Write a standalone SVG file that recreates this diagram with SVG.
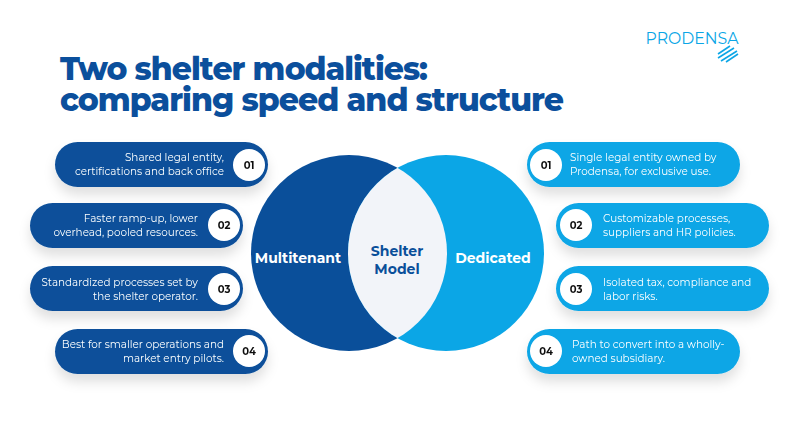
<svg xmlns="http://www.w3.org/2000/svg" width="795" height="446" viewBox="0 0 795 446">
<style>
.t{font-family:Montserrat,"Open Sans","Liberation Sans",sans-serif}
.title{font-size:32px;font-weight:800;fill:#0b4f9c;letter-spacing:-1px}
.pl{font-size:10.4px;fill:#fff}
.num{font-size:10px;font-weight:700;fill:#111;text-anchor:middle}
.dk{fill:#0a4f9a}.lt{fill:#0ba6e6}
.big{font-size:14px;font-weight:700;fill:#fff;text-anchor:middle}
</style>
<defs><filter id="sh" x="-20%" y="-30%" width="140%" height="180%"><feDropShadow dx="0" dy="8" stdDeviation="6" flood-color="#000" flood-opacity="0.12"/></filter>
<clipPath id="cl"><circle cx="349" cy="253" r="98"/></clipPath></defs>
<rect width="795" height="446" fill="#fff"/>
<g id="logo"><text x="692" y="44" class="t" font-size="16" fill="#0ba6e6" text-anchor="middle" textLength="93" lengthAdjust="spacingAndGlyphs">PRODENSA</text>
<g stroke="#0ba6e6" stroke-width="1.6"><line x1="718" y1="54" x2="730" y2="46"/><line x1="718" y1="58" x2="734" y2="48"/><line x1="721" y1="61" x2="737" y2="51"/><line x1="726" y1="62" x2="738" y2="54"/></g></g>
<text class="t title" x="60" y="80" textLength="367" lengthAdjust="spacingAndGlyphs">Two shelter modalities:</text>
<text class="t title" x="60" y="111" textLength="503" lengthAdjust="spacingAndGlyphs">comparing speed and structure</text>
<g id="venn">
<circle cx="349" cy="253" r="98" class="dk"/>
<circle cx="446" cy="253" r="98" class="lt"/>
<circle cx="446" cy="253" r="98" fill="#f2f4f9" clip-path="url(#cl)"/>
<text class="t big" x="298" y="263">Multitenant</text>
<text class="t big" x="493" y="263">Dedicated</text>
<text class="t big" x="397" y="256" style="fill:#0a4f9a">Shelter</text>
<text class="t big" x="397" y="274" style="fill:#0a4f9a">Model</text>
</g>
<g id="l1" filter="url(#sh)"><rect x="55" y="142" width="213" height="45" rx="22.5" class="dk"/><circle cx="249" cy="165" r="16" fill="#fff"/><text class="t num" x="249" y="169">01</text>
<text class="t pl" text-anchor="end" x="224" y="161">Shared legal entity,</text><text class="t pl" text-anchor="end" x="224" y="175">certifications and back office</text></g>
<g id="l2" filter="url(#sh)"><rect x="30" y="203" width="213" height="45" rx="22.5" class="dk"/><circle cx="224" cy="225" r="16" fill="#fff"/><text class="t num" x="224" y="229">02</text>
<text class="t pl" text-anchor="end" x="198" y="222">Faster ramp-up, lower</text><text class="t pl" text-anchor="end" x="198" y="236">overhead, pooled resources.</text></g>
<g id="l3" filter="url(#sh)"><rect x="30" y="266" width="213" height="45" rx="22.5" class="dk"/><circle cx="224" cy="289" r="16" fill="#fff"/><text class="t num" x="224" y="293">03</text>
<text class="t pl" text-anchor="end" x="198" y="286">Standardized processes set by</text><text class="t pl" text-anchor="end" x="198" y="300">the shelter operator.</text></g>
<g id="l4" filter="url(#sh)"><rect x="55" y="329" width="213" height="45" rx="22.5" class="dk"/><circle cx="249" cy="351" r="16" fill="#fff"/><text class="t num" x="249" y="355">04</text>
<text class="t pl" text-anchor="end" x="224" y="348">Best for smaller operations and</text><text class="t pl" text-anchor="end" x="224" y="362">market entry pilots.</text></g>
<g id="r1" filter="url(#sh)"><rect x="527" y="142" width="213" height="45" rx="22.5" class="lt"/><circle cx="546" cy="165" r="16" fill="#fff"/><text class="t num" x="546" y="169">01</text>
<text class="t pl" x="570" y="161">Single legal entity owned by</text><text class="t pl" x="570" y="175">Prodensa, for exclusive use.</text></g>
<g id="r2" filter="url(#sh)"><rect x="556" y="203" width="213" height="45" rx="22.5" class="lt"/><circle cx="576" cy="225" r="16" fill="#fff"/><text class="t num" x="576" y="229">02</text>
<text class="t pl" x="603" y="222">Customizable processes,</text><text class="t pl" x="603" y="236">suppliers and HR policies.</text></g>
<g id="r3" filter="url(#sh)"><rect x="556" y="266" width="213" height="45" rx="22.5" class="lt"/><circle cx="576" cy="289" r="16" fill="#fff"/><text class="t num" x="576" y="293">03</text>
<text class="t pl" x="603" y="286">Isolated tax, compliance and</text><text class="t pl" x="603" y="300">labor risks.</text></g>
<g id="r4" filter="url(#sh)"><rect x="527" y="329" width="213" height="45" rx="22.5" class="lt"/><circle cx="546" cy="351" r="16" fill="#fff"/><text class="t num" x="546" y="355">04</text>
<text class="t pl" x="572" y="348">Path to convert into a wholly-</text><text class="t pl" x="572" y="362">owned subsidiary.</text></g>
<g id="connectors"/>
</svg>
